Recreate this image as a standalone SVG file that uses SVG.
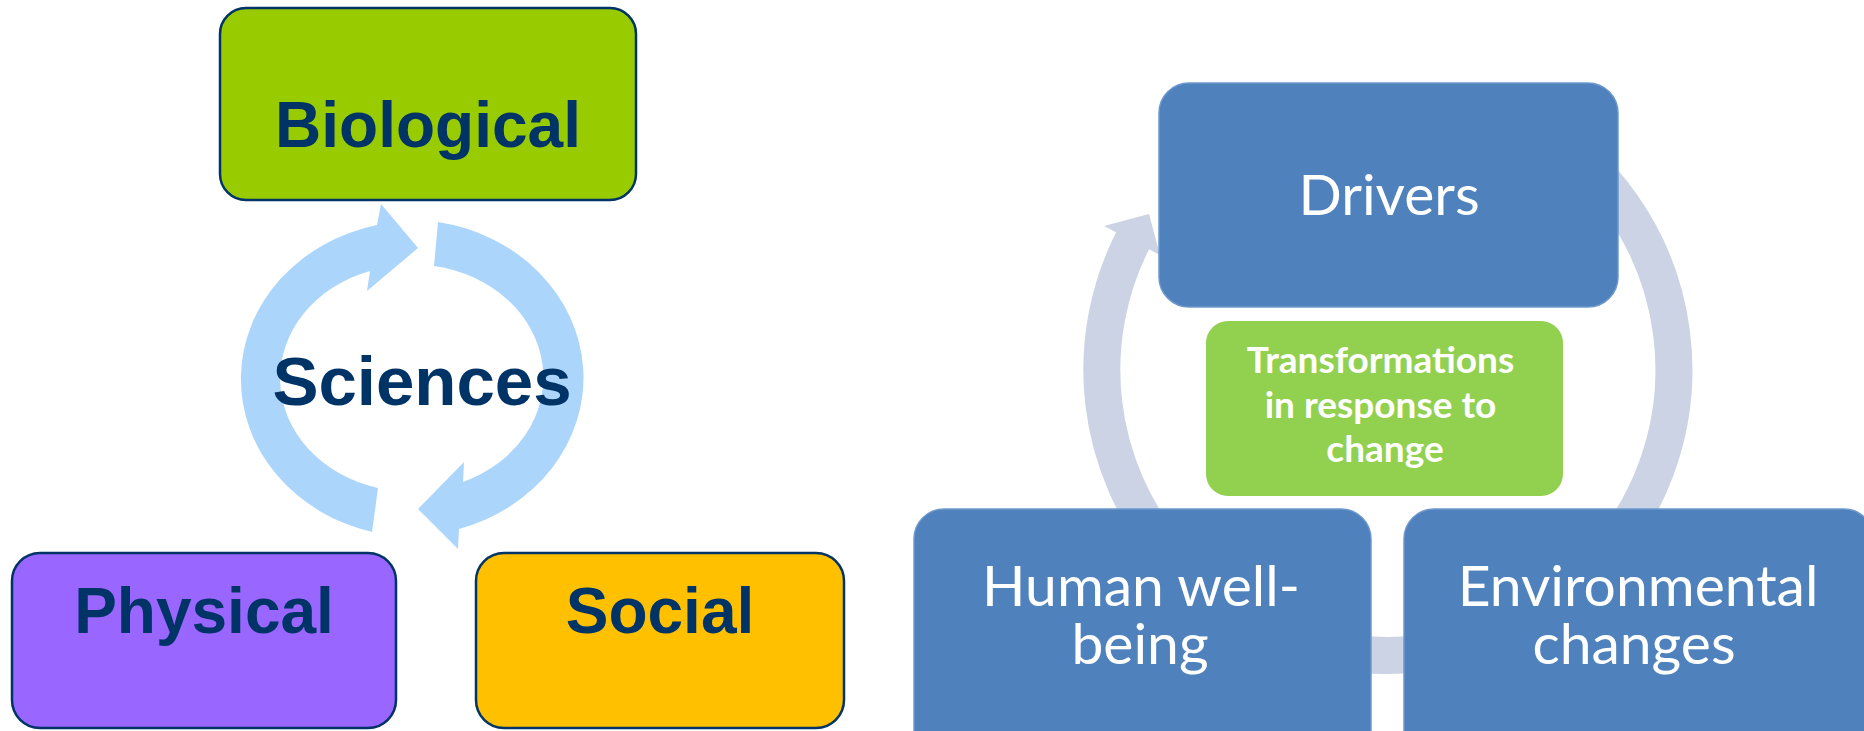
<svg xmlns="http://www.w3.org/2000/svg" width="1864" height="731" viewBox="0 0 1864 731">
<style>
.lbox{stroke:#003366;stroke-width:2.5}
.ltxt{font-family:"Liberation Sans",Arial,sans-serif;font-weight:bold;fill:#003366;text-anchor:middle}
.bbox{fill:#4F81BD;stroke:#6E98CC;stroke-width:1.5}
.rtxt{font-family:Lato,"Open Sans",sans-serif;fill:#FFFFFF;text-anchor:middle;font-size:57px}
.gtxt{font-family:Lato,"Open Sans",sans-serif;fill:#FFFFFF;text-anchor:middle;font-size:37px;font-weight:bold}
.ring{fill:none;stroke:#CBD3E4;stroke-width:37}
.cyc{fill:#ACD5FC}
</style>
<rect width="1864" height="731" fill="#FFFFFF"/>
<g id="connectors">
  <path class="cyc" d="M372,532 A175 158 0 0 1 377,225 L381,204 L418,248 L367,291 L370,271 A130 113 0 0 0 378,488 Z"/>
  <path class="cyc" d="M438,222 A175 158 0 0 1 459,529 L458,549 L418,509 L464,462 L463,482 A130 113 0 0 0 434,266 Z"/>
  <path class="ring" d="M1169,554 A286 286 0 0 1 1133,240"/>
  <polygon fill="#CBD3E4" points="1104,226 1149,214 1160,255"/>
  <path class="ring" d="M1531,122 A286 286 0 0 1 1590,572"/>
  <path class="ring" d="M1590,572 A286 286 0 0 1 1186,572"/>
</g>
<g id="sciences">
  <text class="ltxt" x="422" y="405" font-size="69">Sciences</text>
</g>
<g id="biological">
  <rect class="lbox" x="220" y="8" width="416" height="192" rx="26" fill="#99CC00"/>
  <text class="ltxt" x="428" y="147" font-size="64">Biological</text>
</g>
<g id="physical">
  <rect class="lbox" x="12" y="553" width="384" height="175" rx="28" fill="#9966FF"/>
  <text class="ltxt" x="204" y="633" font-size="64">Physical</text>
</g>
<g id="social">
  <rect class="lbox" x="476" y="553" width="368" height="175" rx="28" fill="#FFC000"/>
  <text class="ltxt" x="660" y="633" font-size="64">Social</text>
</g>
<g id="drivers">
  <rect class="bbox" x="1159" y="83" width="459" height="224" rx="30"/>
  <text class="rtxt" x="1389" y="215">Drivers</text>
</g>
<g id="transformations">
  <rect x="1206" y="321" width="357" height="175" rx="22" fill="#92D050"/>
  <text class="gtxt">
    <tspan x="1385" y="373">Transformations</tspan>
    <tspan x="1385" y="418">in response to</tspan>
    <tspan x="1385" y="462">change</tspan>
  </text>
</g>
<g id="human">
  <rect class="bbox" x="914" y="509" width="457" height="260" rx="30"/>
  <text class="rtxt"><tspan x="1141" y="606">Human well-</tspan><tspan x="1140" y="664">being</tspan></text>
</g>
<g id="environmental">
  <rect class="bbox" x="1404" y="509" width="470" height="260" rx="30"/>
  <text class="rtxt"><tspan x="1638" y="606">Environmental</tspan><tspan x="1634" y="664">changes</tspan></text>
</g>
</svg>
